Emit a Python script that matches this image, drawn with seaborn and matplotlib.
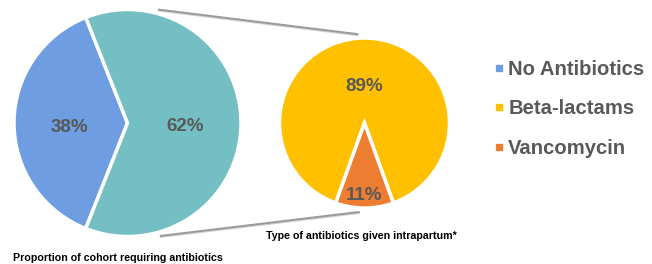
import numpy as np
import matplotlib
matplotlib.use("Agg")
import matplotlib.pyplot as plt
import seaborn as sns
from matplotlib.lines import Line2D

sns.set_theme(style="white")
plt.rcParams['font.family'] = ['Liberation Sans', 'DejaVu Sans']

# ---- data ----
cohort_labels = ["No Antibiotics", "Antibiotics"]
cohort_values = [38, 62]
type_labels = ["Beta-lactams", "Vancomycin"]
type_values = [89, 11]
legend_labels = ["No Antibiotics", "Beta-lactams", "Vancomycin"]
cohort_title = "Proportion of cohort requiring antibiotics"
type_title = "Type of antibiotics given intrapartum*"

cohort_colors = ["#6E9DE1", "#73BFC4"]
type_colors = ["#FFC000", "#ED7D31"]
legend_colors = [cohort_colors[0], type_colors[0], type_colors[1]]
txt_gray = "#595959"

W, H = 652, 264
fig = plt.figure(figsize=(W / 100, H / 100), dpi=100)
ax = fig.add_axes([0, 0, 1, 1])

# left pie
c1 = (127.5, 141.0)
r1 = 113.5
start1 = 180 - cohort_values[0] / 100 * 360 / 2
w1, t1, a1 = ax.pie(cohort_values, colors=cohort_colors, center=c1, radius=r1,
                    startangle=start1, counterclock=True, autopct="%d%%",
                    pctdistance=0.51,
                    wedgeprops=dict(edgecolor="white", linewidth=2.5),
                    textprops=dict(fontsize=13.5, fontweight="bold", color=txt_gray),
                    frame=True)

# right pie
c2 = (364.5, 141.0)
r2 = 85.0
start2 = 270 + type_values[1] / 100 * 360 / 2
w2, t2, a2 = ax.pie(type_values, colors=type_colors, center=c2, radius=r2,
                    startangle=start2, counterclock=True, autopct="%d%%",
                    explode=[0, 0.055],
                    wedgeprops=dict(edgecolor="white", linewidth=2.5),
                    textprops=dict(fontsize=13.5, fontweight="bold", color=txt_gray),
                    frame=True)
for wedge, txt, frac in zip(w2, a2, [0.48, 0.80]):
    ang = np.deg2rad((wedge.theta1 + wedge.theta2) / 2)
    cx, cy = c2
    txt.set_position((cx + frac * r2 * np.cos(ang), cy + frac * r2 * np.sin(ang)))
for txt in list(a1) + list(a2):
    x, y = txt.get_position()
    txt.set_position((x, y - 4))
    txt.set_va("center")
    txt.set_ha("center")

ax.set_xlim(0, W)
ax.set_ylim(0, H)
ax.set_aspect("equal")
ax.axis("off")

# connector lines
def pt(c, r, deg):
    a = np.deg2rad(deg)
    return c[0] + r * np.cos(a), c[1] + r * np.sin(a)

for d1, d2 in [(75, 94), (-74, -93)]:
    p1 = pt(c1, r1 + 4, d1)
    p2 = pt(c2, r2 + 4, d2)
    ax.plot([p1[0], p2[0]], [p1[1] - 1, p2[1] - 1], color="#d0d0d0", lw=1.5,
            solid_capstyle="butt", zorder=0)
    ax.plot([p1[0], p2[0]], [p1[1], p2[1]], color="#9a9a9a", lw=1.4,
            solid_capstyle="butt", zorder=0)

# captions
ax.text(13, H - 258, cohort_title, fontsize=7.7, fontweight="bold",
        color="black", ha="left", va="center")
ax.text(266, H - 236, type_title, fontsize=7.7, fontweight="bold",
        color="black", ha="left", va="center")

# legend
handles = [Line2D([0], [0], marker="s", linestyle="none", markersize=4.2,
                  markerfacecolor=c, markeredgecolor=c) for c in legend_colors]
leg = ax.legend(handles, legend_labels, loc="upper left",
                bbox_to_anchor=(486 / W, 1 - 52 / H), frameon=False,
                handlelength=0.45, handletextpad=0.25, labelspacing=1.0,
                borderaxespad=0, prop=dict(size=14.6, weight="bold"))
for t in leg.get_texts():
    t.set_color(txt_gray)

fig.savefig("out.png", dpi=100)
